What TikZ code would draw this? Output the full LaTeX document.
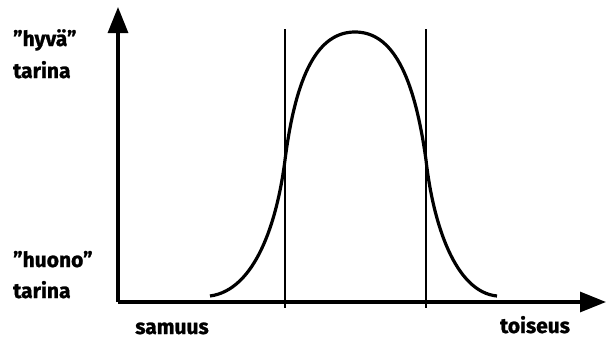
\documentclass[tikz,border=0pt]{standalone}
\usepackage{fontspec}
\setmainfont{Fira Sans}[BoldFeatures={FakeBold=1.2}]
\usetikzlibrary{arrows.meta, positioning}

\begin{document}
\begin{tikzpicture}[
    x=1pt, y=-1pt,
    label/.style={font=\fontsize{21}{24}\selectfont\bfseries, inner sep=0pt},
    axis/.style={-{Triangle[length=26pt, width=20pt]}, line width=3.2pt},
    border/.style={line width=2.4pt},
    curve/.style={line width=3.2pt}
]
\useasboundingbox (0,0) rectangle (606,340);

% Axes
\coordinate (origin) at (118,302);
\coordinate (ytip) at (118,7);
\coordinate (xtip) at (606,302);
\draw[axis] (origin) -- (ytip);
\draw[axis] (origin) -- (xtip);

% Limits
\coordinate (lefttop) at (285,29);
\coordinate (leftbot) at (285,308);
\coordinate (righttop) at (426,29);
\coordinate (rightbot) at (426,308);
\draw[border] (lefttop) -- (leftbot);
\draw[border] (righttop) -- (rightbot);

% Curve
\coordinate (cstart) at (210,296);
\coordinate (cleft) at (285,160);
\coordinate (cpeak) at (355,32);
\coordinate (cright) at (426,160);
\coordinate (cend) at (497,296);
\draw[curve] (cstart) .. controls (255,290) and (277,223) .. (cleft)
    .. controls (296,74) and (318,32) .. (cpeak)
    .. controls (392,32) and (414,74) .. (cright)
    .. controls (433,223) and (455,292) .. (cend);

% Labels
\node[label, anchor=base west] (goodq) at (13,46) {”hyvä”};
\node[label, anchor=base west] (goodt) at (13,78) {tarina};
\node[label, anchor=base west] (badq) at (13,267) {”huono”};
\node[label, anchor=base west] (badt) at (13,298) {tarina};
\node[label, anchor=base] (same) at (172,334) {samuus};
\node[label, anchor=base] (other) at (535,333) {toiseus};

\end{tikzpicture}
\end{document}
